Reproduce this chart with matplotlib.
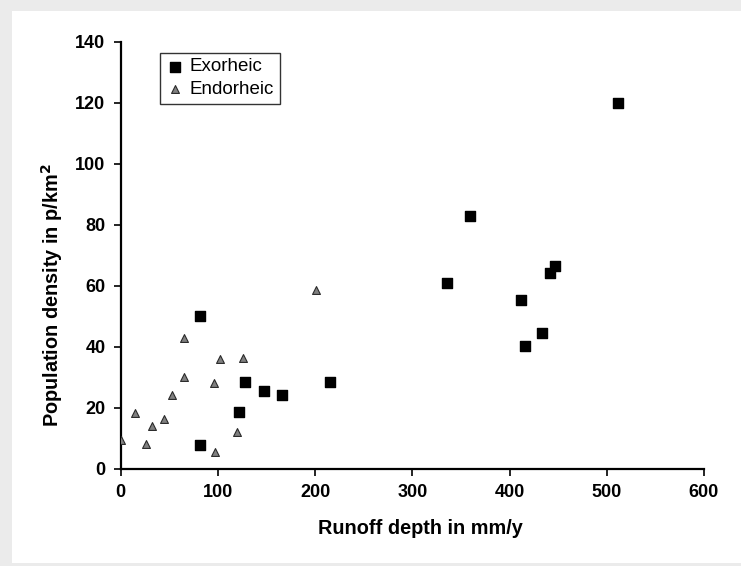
"""
Population density vs runoff depth, exorheic vs endorheic basins.
"""

import matplotlib
matplotlib.use('Agg')
import matplotlib.pyplot as plt
from matplotlib.patches import Rectangle

# Exorheic basins
exo_runoff = [512, 359, 336, 447, 442, 412, 433, 416, 82, 82, 128, 147, 166, 215, 122]
exo_density = [120, 83, 61, 66.5, 64.2, 55.5, 44.6, 40.2, 50, 7.8, 28.5, 25.7, 24.4, 28.5, 18.8]

# Endorheic basins
endo_runoff = [0, 14.6, 25.8, 32.6, 44.2, 53, 64.6, 65.6, 95.7, 97.2, 102.5, 125.4, 120, 200.7]
endo_density = [9.5, 18.5, 8.3, 14.0, 16.4, 24.1, 30.1, 43.0, 28.3, 5.7, 36.1, 36.4, 12.1, 58.8]

plt.rcParams['font.family'] = ['Liberation Sans', 'DejaVu Sans']

fig = plt.figure(figsize=(7.41, 5.66), dpi=100)
fig.patch.set_facecolor('#ebebeb')
# white inner panel
fig.patches.append(Rectangle((12 / 741, 3 / 566), 1.0, 1 - 14 / 566,
                             transform=fig.transFigure, facecolor='white',
                             edgecolor='none', zorder=-10))

ax = fig.add_axes([0.1629, 0.1714, 0.7871, 0.7544])
ax.set_facecolor('none')

ax.scatter(exo_runoff, exo_density, marker='s', s=55, color='black',
           label='Exorheic', zorder=3)
ax.scatter(endo_runoff, endo_density, marker='^', s=32, facecolor='#808080',
           edgecolor='#2a2a2a', linewidths=0.8, label='Endorheic', zorder=3)

ax.set_xlim(0, 600)
ax.set_ylim(0, 140)
ax.set_xticks(range(0, 601, 100))
ax.set_yticks(range(0, 141, 20))

for side in ['top', 'right']:
    ax.spines[side].set_visible(False)
for side in ['left', 'bottom']:
    ax.spines[side].set_linewidth(1.6)
ax.tick_params(direction='out', length=5, width=1.2, labelsize=13, pad=6)
for lbl in ax.get_xticklabels() + ax.get_yticklabels():
    lbl.set_fontweight('bold')

ax.set_xlabel('Runoff depth in mm/y', fontsize=14.3, fontweight='bold')
ax.set_ylabel('Population density in p/km$^\\mathbf{2}$', fontsize=14.3,
              fontweight='bold')
ax.xaxis.label.set_va('center')
ax.yaxis.label.set_va('center')
ax.xaxis.set_label_coords(0.513, -0.14)
ax.yaxis.set_label_coords(-0.118, 0.407)

leg = ax.legend(loc='upper left', bbox_to_anchor=(0.067, 0.975), fontsize=13.5,
                frameon=True, fancybox=False, edgecolor='black',
                handletextpad=0.3, borderpad=0.3, labelspacing=0.3,
                handlelength=1.0, borderaxespad=0)
leg.get_frame().set_linewidth(1.0)

plt.savefig('out.png', dpi=100)
plt.close()
